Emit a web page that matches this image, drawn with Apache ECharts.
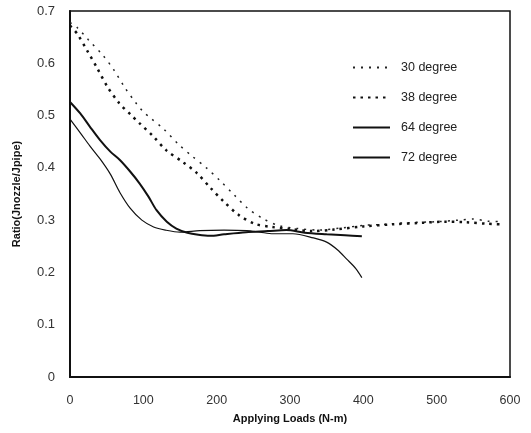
<!DOCTYPE html>
<html>
<head>
<meta charset="utf-8">
<script src="https://cdn.jsdelivr.net/npm/echarts@6/dist/echarts.min.js"></script>
<style>
  html, body { margin: 0; padding: 0; background: #fff; }
  #main { width: 531px; height: 433px; }
</style>
</head>
<body>
<div id="main"></div>
<script>
// 数据：每条曲线 [载荷, 比值]
var names = ['30 degree', '38 degree', '64 degree', '72 degree'];
var xTicks = [0, 100, 200, 300, 400, 500, 600];
var yTicks = [0, 0.1, 0.2, 0.3, 0.4, 0.5, 0.6, 0.7];

var deg30 = [[0,0.678],[10,0.668],[25,0.645],[45,0.615],[60,0.587],[75,0.553],[90,0.524],[100,0.507],
  [110,0.495],[128,0.474],[148,0.445],[166,0.423],[186,0.400],[205,0.375],[224,0.348],[242,0.323],
  [263,0.303],[286,0.289],[310,0.284],[340,0.281],[370,0.285],[400,0.290],[430,0.292],[460,0.295],
  [500,0.297],[530,0.300],[550,0.302],[570,0.298],[590,0.297]];
var deg38 = [[0,0.672],[10,0.656],[24,0.623],[37,0.591],[51,0.555],[67,0.524],[84,0.500],[95,0.485],
  [113,0.461],[131,0.434],[155,0.410],[173,0.390],[192,0.361],[210,0.335],[230,0.310],[252,0.293],
  [275,0.287],[300,0.283],[330,0.279],[360,0.282],[400,0.288],[440,0.292],[480,0.295],[510,0.297],
  [540,0.296],[570,0.293],[590,0.292]];
var deg64 = [[0,0.526],[14,0.504],[27,0.479],[41,0.453],[55,0.431],[68,0.415],[82,0.393],[95,0.370],
  [107,0.345],[118,0.319],[132,0.297],[145,0.284],[160,0.276],[175,0.272],[191,0.270],[210,0.273],
  [240,0.277],[270,0.279],[295,0.281],[320,0.276],[350,0.273],[375,0.271],[398,0.269]];
var deg72 = [[0,0.493],[14,0.467],[27,0.442],[41,0.417],[55,0.388],[68,0.353],[82,0.323],[98,0.300],
  [114,0.287],[130,0.281],[150,0.277],[177,0.280],[210,0.281],[241,0.280],[259,0.277],[277,0.274],
  [304,0.274],[332,0.266],[350,0.258],[365,0.243],[377,0.226],[390,0.207],[398,0.190]];

var myChart = echarts.init(document.getElementById('main'));
var font = 'Liberation Sans, Arial, sans-serif';

var option = {
  backgroundColor: '#fff',
  animation: false,
  textStyle: { fontFamily: font },
  grid: {
    left: 70, right: 21, top: 11, bottom: 56,
    show: true, borderColor: '#111', borderWidth: 1.5, backgroundColor: 'transparent'
  },
  legend: {
    orient: 'vertical',
    left: 347, top: 56,
    itemWidth: 37, itemHeight: 12, itemGap: 17,
    data: names,
    itemStyle: { opacity: 0 },
    textStyle: { fontFamily: font, fontSize: 12.5, color: '#222', padding: [0, 0, 0, 6] }
  },
  xAxis: {
    type: 'value', min: 0, max: 600, interval: 100,
    name: 'Applying Loads (N-m)', nameLocation: 'middle', nameGap: 36,
    nameTextStyle: { fontFamily: font, fontWeight: 'bold', fontSize: 11, color: '#111' },
    axisLine: { show: true, lineStyle: { color: '#111', width: 2 } },
    axisTick: { show: false },
    splitLine: { show: false },
    axisLabel: { margin: 17, fontSize: 12.5, color: '#333',
      formatter: function (v) { return xTicks.indexOf(v) >= 0 ? String(v) : ''; } }
  },
  yAxis: {
    type: 'value', min: 0, max: 0.7, interval: 0.1,
    name: 'Ratio(Jnozzle/Jpipe)', nameLocation: 'middle', nameGap: 48, nameRotate: 90,
    nameTextStyle: { fontFamily: font, fontWeight: 'bold', fontSize: 11, color: '#111' },
    axisLine: { show: true, lineStyle: { color: '#111', width: 2 } },
    axisTick: { show: false },
    splitLine: { show: false },
    axisLabel: { margin: 15, fontSize: 13, color: '#333',
      formatter: function (v) {
        var r = Math.round(v * 10) / 10;
        return yTicks.indexOf(r) >= 0 ? (r === 0 ? '0' : r.toFixed(1)) : '';
      } }
  },
  series: [
    { name: names[0], type: 'line', data: deg30, symbol: 'none', smooth: 0.3,
      lineStyle: { color: '#222', width: 1.5, type: [2, 6] }, itemStyle: { color: '#222' } },
    { name: names[1], type: 'line', data: deg38, symbol: 'none', smooth: 0.3,
      lineStyle: { color: '#111', width: 2.5, type: [2.5, 5] }, itemStyle: { color: '#111' } },
    { name: names[2], type: 'line', data: deg64, symbol: 'none', smooth: 0.3,
      lineStyle: { color: '#111', width: 2 }, itemStyle: { color: '#111' } },
    { name: names[3], type: 'line', data: deg72, symbol: 'none', smooth: 0.3,
      lineStyle: { color: '#111', width: 1.2 }, itemStyle: { color: '#111' } }
  ]
};
myChart.setOption(option);
</script>
</body>
</html>
